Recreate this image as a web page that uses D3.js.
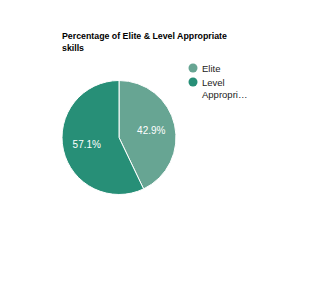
<!DOCTYPE html>
<html>
<head>
<meta charset="utf-8">
<script src="https://cdn.jsdelivr.net/npm/d3@7"></script>
<style>
  body { margin: 0; background: #fff; }
  svg { font-family: Arial, "Liberation Sans", sans-serif; }
</style>
</head>
<body>
<svg id="chart" width="322" height="283"></svg>
<script>
const categories = ['Elite', 'Level Appropriate'];
const legendLabels = [['Elite'], ['Level', 'Appropri…']];
const values = [42.9, 57.1];
const colors = ['#67a593', '#278f77'];
const titleLines = ['Percentage of Elite & Level Appropriate', 'skills'];

const svg = d3.select('#chart');
const cx = 119, cy = 137.5, r = 57;

svg.append('g')
    .selectAll('text')
    .data(titleLines)
    .enter()
    .append('text')
    .attr('x', 62)
    .attr('y', (d, i) => 39 + i * 12)
    .style('font-size', '8.8px')
    .style('font-weight', 'bold')
    .style('fill', '#000')
    .text(d => d);

const pie = d3.pie().sort(null).value(d => d);
const arc = d3.arc().innerRadius(0).outerRadius(r);
const labelArc = d3.arc().innerRadius(r * 0.58).outerRadius(r * 0.58);
const arcs = pie(values);

const g = svg.append('g').attr('transform', `translate(${cx},${cy})`);

g.selectAll('path')
    .data(arcs)
    .enter()
    .append('path')
    .attr('d', arc)
    .attr('fill', (d, i) => colors[i])
    .attr('stroke', '#fff')
    .attr('stroke-width', 1);

g.selectAll('text')
    .data(arcs)
    .enter()
    .append('text')
    .attr('transform', d => `translate(${labelArc.centroid(d)})`)
    .attr('text-anchor', 'middle')
    .attr('dy', '0.35em')
    .style('font-size', '10px')
    .style('fill', '#fff')
    .text(d => d3.format('.1f')(d.data) + '%');

const legend = svg.append('g')
    .selectAll('g')
    .data(categories)
    .enter()
    .append('g')
    .attr('transform', (d, i) => `translate(193,${68 + i * 14})`);

legend.append('circle')
    .attr('r', 4.5)
    .attr('fill', (d, i) => colors[i]);

legend.append('text')
    .attr('x', 9)
    .attr('y', 3.5)
    .style('font-size', '9.5px')
    .style('fill', '#222')
    .selectAll('tspan')
    .data((d, i) => legendLabels[i])
    .enter()
    .append('tspan')
    .attr('x', 9)
    .attr('dy', (d, i) => i === 0 ? 0 : 12)
    .text(d => d);
</script>
</body>
</html>
